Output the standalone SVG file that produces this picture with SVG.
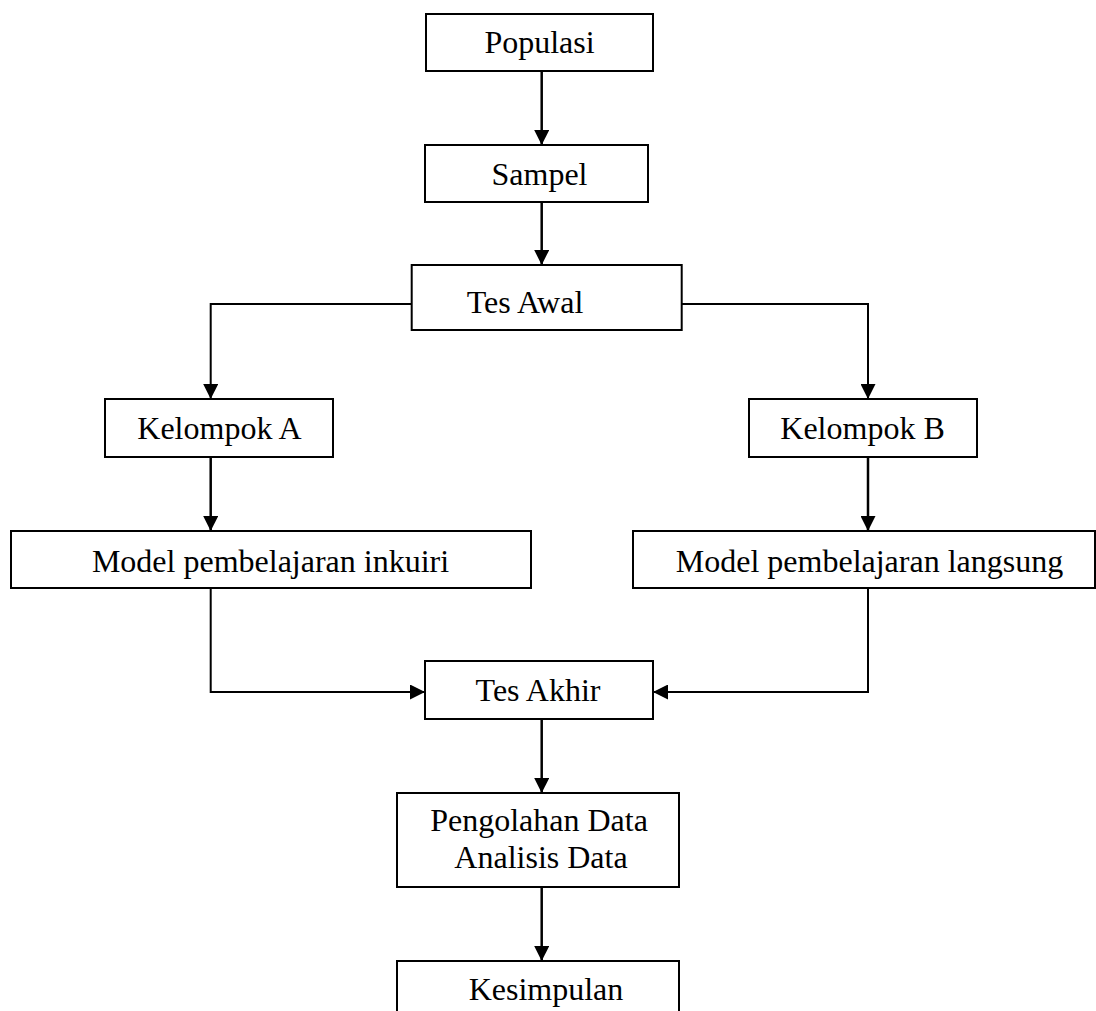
<svg xmlns="http://www.w3.org/2000/svg" width="1096" height="1011" viewBox="0 0 1096 1011">
<style>
.box{fill:#fff;stroke:#000;stroke-width:2}
.t{font-family:"Liberation Serif","Times New Roman",serif;font-size:32px;fill:#000;text-anchor:middle}
.c{fill:none;stroke:#000;stroke-width:2}
.v{fill:none;stroke:#000;stroke-width:2.5}
</style>
<defs>
<marker id="ah" markerUnits="userSpaceOnUse" markerWidth="15" markerHeight="15" refX="15" refY="7.5" orient="auto">
<path d="M0,0 L15,7.5 L0,15 z" fill="#000"/>
</marker>
</defs>
<rect width="1096" height="1011" fill="#fff"/>
<g id="connectors">
<path class="v" d="M541.7,71 V145" marker-end="url(#ah)"/>
<path class="v" d="M541.7,202 V265" marker-end="url(#ah)"/>
<path class="c" d="M411.7,304 H210.7 V399" marker-end="url(#ah)"/>
<path class="c" d="M681.7,304 H868 V399" marker-end="url(#ah)"/>
<path class="v" d="M210.7,457 V531" marker-end="url(#ah)"/>
<path class="v" d="M868,457 V531" marker-end="url(#ah)"/>
<path class="c" d="M210.7,588 V692 H425" marker-end="url(#ah)"/>
<path class="c" d="M868,588 V692 H653" marker-end="url(#ah)"/>
<path class="v" d="M541.7,719 V793" marker-end="url(#ah)"/>
<path class="v" d="M541.7,887 V961" marker-end="url(#ah)"/>
</g>
<g id="populasi"><rect class="box" x="426" y="14" width="227" height="57"/><text class="t" x="539.5" y="53">Populasi</text></g>
<g id="sampel"><rect class="box" x="425" y="145" width="223" height="57"/><text class="t" x="539.5" y="185">Sampel</text></g>
<g id="tes-awal"><rect class="box" x="411.7" y="265" width="270" height="65"/><text class="t" x="525" y="313">Tes Awal</text></g>
<g id="kelompok-a"><rect class="box" x="105" y="399" width="228" height="58"/><text class="t" x="219.5" y="439">Kelompok A</text></g>
<g id="kelompok-b"><rect class="box" x="749" y="399" width="228" height="58"/><text class="t" x="862.5" y="439">Kelompok B</text></g>
<g id="model-inkuiri"><rect class="box" x="11" y="531" width="520" height="57"/><text class="t" x="270.5" y="571.5">Model pembelajaran inkuiri</text></g>
<g id="model-langsung"><rect class="box" x="633" y="531" width="462" height="57"/><text class="t" x="869.5" y="571.5">Model pembelajaran langsung</text></g>
<g id="tes-akhir"><rect class="box" x="425" y="661" width="228" height="58"/><text class="t" x="538" y="700.5">Tes Akhir</text></g>
<g id="pengolahan"><rect class="box" x="397" y="793" width="282" height="94"/><text class="t" x="539" y="831">Pengolahan Data</text><text class="t" x="541" y="867.5">Analisis Data</text></g>
<g id="kesimpulan"><rect class="box" x="397" y="961" width="282" height="80"/><text class="t" x="546" y="1000">Kesimpulan</text></g>
</svg>
